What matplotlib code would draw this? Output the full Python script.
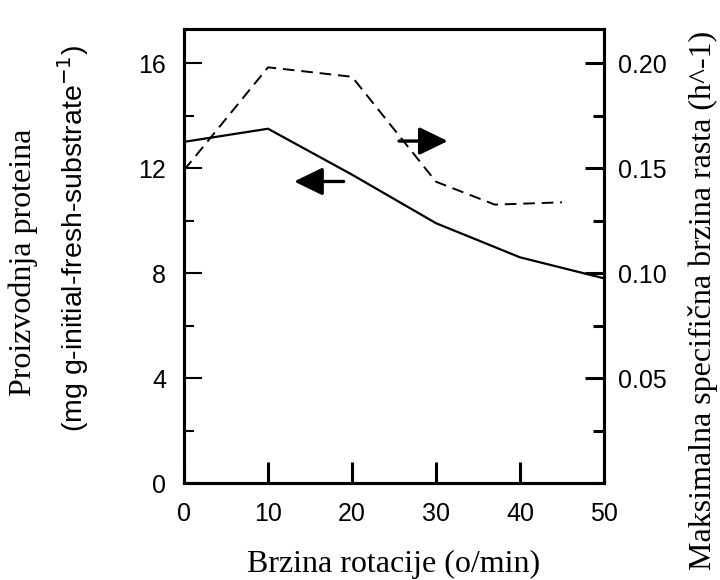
import matplotlib
matplotlib.use("Agg")
import matplotlib.pyplot as plt
from matplotlib.ticker import MultipleLocator

plt.rcParams['font.family'] = ['Liberation Sans', 'DejaVu Sans']

# brzina rotacije (o/min)
x_protein = [0, 10, 20, 30, 40, 50]
protein = [13.0, 13.5, 11.75, 9.9, 8.6, 7.8]  # mg g-1

x_rate = [0, 10, 20, 30, 37, 45]
rate = [0.149, 0.198, 0.1935, 0.1435, 0.1326, 0.1337]  # h^-1

x_ticks = [0, 10, 20, 30, 40, 50]
left_ticks = [0, 4, 8, 12, 16]
right_ticks = [0.05, 0.10, 0.15, 0.20]
right_labels = ['0.05', '0.10', '0.15', '0.20']

fig = plt.figure(figsize=(7.2, 5.8), dpi=100)
ax = fig.add_axes([0.2556, 0.1672, 0.5833, 0.7828])
ax2 = ax.twinx()

ax.plot(x_protein, protein, color='black', lw=1.6, clip_on=False)
ax2.plot(x_rate, rate, color='black', lw=1.4, ls=(0, (6, 3.5)))

ymax = 17.3
ax.set_xlim(0, 50)
ax.set_ylim(0, ymax)
ax2.set_ylim(0, ymax / 80)

ax.set_xticks(x_ticks)
ax.set_yticks(left_ticks)
ax.yaxis.set_minor_locator(MultipleLocator(2))
ax2.set_yticks(right_ticks)
ax2.set_yticklabels(right_labels)
ax2.yaxis.set_minor_locator(MultipleLocator(0.025))

for a in (ax, ax2):
    for s in a.spines.values():
        s.set_linewidth(2.2)
ax.tick_params(axis='x', direction='in', length=15, width=2.2, pad=14, labelsize=18)
ax.tick_params(axis='y', which='major', direction='in', length=13, width=1.5, pad=13, labelsize=18)
ax.tick_params(axis='y', which='minor', direction='in', length=7, width=1.5)
ax2.tick_params(axis='y', which='major', direction='in', length=14, width=2.2, pad=10, labelsize=18)
ax2.tick_params(axis='y', which='minor', direction='in', length=8, width=2.2)

# strelice
arrow = dict(arrowstyle='-|>,head_length=1.75,head_width=0.85', color='black', lw=2.4,
             shrinkA=0, shrinkB=0)
ax.annotate('', xy=(31.4, 13.03), xytext=(25.6, 13.03), arrowprops=arrow)
ax.annotate('', xy=(13.1, 11.49), xytext=(19.0, 11.49), arrowprops=arrow)

ax.set_xlabel('Brzina rotacije (o/min)', family='Liberation Serif', fontsize=23, labelpad=17)

fig.text(23 / 720, 1 - 262 / 580, 'Proizvodnja proteina', family='Liberation Serif',
         fontsize=23, rotation=90, ha='center', va='center')
fig.text(73 / 720, 1 - 238 / 580, '(mg g-initial-fresh-substrate$^{-1}$)',
         fontsize=20.5, rotation=90, ha='center', va='center')
fig.text(703 / 720, 1 - 300 / 580, 'Maksimalna specifična brzina rasta (h^-1)',
         family='Liberation Serif', fontsize=23, rotation=90, ha='center', va='center')

fig.savefig('out.png', dpi=100)
